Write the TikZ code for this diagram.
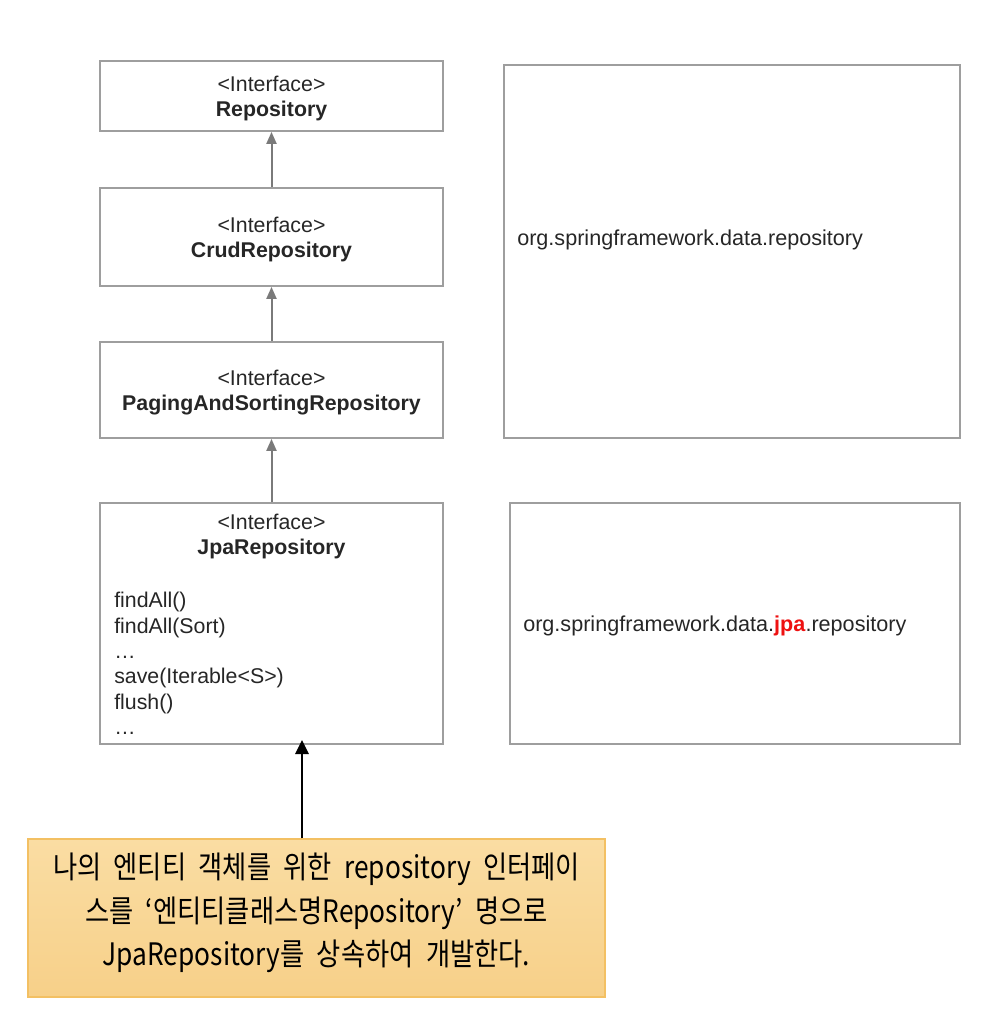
\documentclass[tikz,border=0pt]{standalone}
\usepackage{fontspec}
\setmainfont{Liberation Sans}
\newfontfamily\kofont[FakeStretch=0.85]{Noto Sans CJK KR}
\newcommand\notefont{\kofont\fontsize{23.2}{32.6}\selectfont\spaceskip=0.4em plus 0.1em\relax}
\usetikzlibrary{arrows.meta}
\definecolor{boxgray}{HTML}{9E9E9E}
\definecolor{arrowgray}{HTML}{7A7A7A}
\definecolor{txtgray}{HTML}{262626}
\definecolor{notetop}{HTML}{FADDA3}
\definecolor{notebot}{HTML}{F7D089}
\definecolor{noteedge}{HTML}{F3C063}
\definecolor{jpared}{HTML}{EE1111}
\begin{document}
\begin{tikzpicture}[x=0.75pt,y=-0.75pt]

\tikzset{iface/.style = {shape=rectangle,draw=boxgray,line width=1.3pt,minimum width=257.25pt,inner sep=0pt,align=center,text=txtgray,font=\fontsize{16}{18.75}\selectfont}}
\tikzset{pkgbox/.style = {shape=rectangle,draw=boxgray,line width=1.3pt,inner sep=0pt}}
\tikzset{label/.style = {text=txtgray,inner sep=0pt,align=left,font=\fontsize{16.2}{19}\selectfont}}
\tikzset{edge/.style = {-{Triangle[length=9pt,width=7.5pt]},arrowgray,line width=1.5pt}}
\useasboundingbox (0,0) rectangle (996,1018);
% interfaces
\node[iface,minimum height=52.5pt] (repo) at (271.5,96) {};
\node[iface,minimum height=73.5pt] (crud) at (271.5,237) {};
\node[iface,minimum height=72pt] (paging) at (271.5,390) {};
\node[iface,minimum height=180.75pt] (jpa) at (271.5,623.5) {};
\node[iface,draw=none,minimum width=0pt] (repotxt) at (271.5,98) {<Interface>\\\textbf{Repository}};
\node[iface,draw=none,minimum width=0pt] (crudtxt) at (271.5,239) {<Interface>\\\textbf{CrudRepository}};
\node[iface,draw=none,minimum width=0pt] (pagingtxt) at (271.5,393) {<Interface>\\\textbf{PagingAndSortingRepository}};
\node[iface,draw=none,minimum width=0pt] (jpatitle) at (271.5,536) {<Interface>\\\textbf{JpaRepository}};
\node[label,anchor=north west,font=\fontsize{16}{19}\selectfont] (methods) at (114,592)
  {findAll()\\findAll(Sort)\\\dots\\save(Iterable<S>)\\flush()\\\dots};
% packages
\node[pkgbox,minimum width=342pt,minimum height=279.75pt] (pkgdata) at (732,251.5) {};
\node[label,anchor=west] (pkgdatatxt) at (517,240) {org.springframework.data.repository};
\node[pkgbox,minimum width=337.5pt,minimum height=180.75pt] (pkgjpa) at (735,623.5) {};
\node[label,anchor=west] (pkgjpatxt) at (523,626) {org.springframework.data.\textcolor{jpared}{\textbf{jpa}}.repository};
% note
\node[shape=rectangle,draw=noteedge,line width=0.8pt,top color=notetop,bottom color=notebot,
  minimum width=432.75pt,minimum height=118.5pt] (note) at (316.5,918) {};
\node[align=center,inner sep=0pt,font=\notefont] (notetxt) at (316.5,913)
  {나의 엔티티 객체를 위한 repository 인터페이\\스를 ‘엔티티클래스명Repository’ 명으로\\JpaRepository를 상속하여 개발한다.};
%edges
\draw[edge] (crud) -- (repo);
\draw[edge] (paging) -- (crud);
\draw[edge] (jpa) -- (paging);
\coordinate (tip) at (302,740);
\draw[-{Triangle[length=10.5pt,width=10pt]},black,line width=1.2pt] (note.north -| tip) -- (tip);

\end{tikzpicture}
\end{document}
